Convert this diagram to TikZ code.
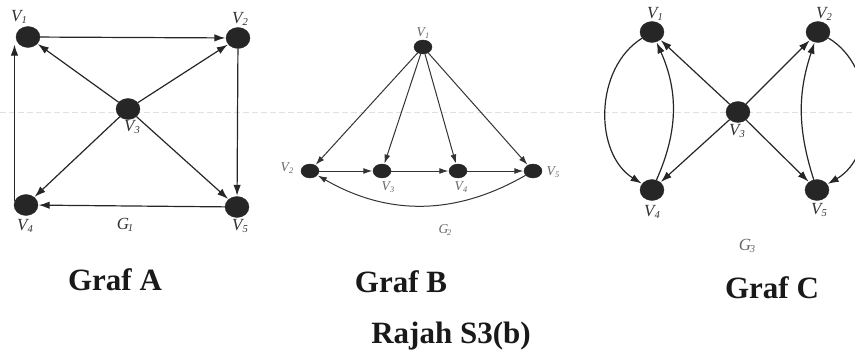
\documentclass[tikz,border=0pt]{standalone}
\usepackage{fontspec}
\setmainfont{Liberation Serif}
\usetikzlibrary{arrows.meta,shapes.geometric}
\newcommand{\vlab}[2]{\textit{#1}\kern-0.08em\raisebox{-0.3ex}{\scalebox{0.62}{\textit{#2}}}}
\tikzset{
  vbig/.style={shape=ellipse, fill=black!85, draw=black!85, minimum width=24pt, minimum height=21pt, inner sep=0pt},
  vsmall/.style={shape=ellipse, fill=black!85, draw=black!85, minimum width=18pt, minimum height=14pt, inner sep=0pt},
  arr/.style={-{Latex[length=11pt,width=7.5pt]}, line width=1.2pt, black!85, shorten >=0.5pt},
  arrs/.style={-{Latex[length=9pt,width=6pt]}, line width=1pt, black!80, shorten >=0.5pt},
  lab/.style={font=\fontsize{17}{17}\selectfont, text=black!80, inner sep=0pt},
  labs/.style={font=\fontsize{13.5}{13.5}\selectfont, text=black!60, inner sep=0pt},
  title/.style={font=\fontsize{31}{31}\selectfont\bfseries, text=black!90, inner sep=0pt, anchor=base}
}
\begin{document}
\begin{tikzpicture}[x=1pt,y=1pt]
\useasboundingbox (0,0) rectangle (855,-353);
% faint scan line
\draw[black!12, line width=0.8pt, dash pattern=on 6pt off 3pt] (0,-112) -- (855,-112);

% ---------- Graph A ----------
\node[vbig] (a1) at (28,-37) {};
\node[vbig] (a2) at (238,-38) {};
\node[vbig] (a3) at (128,-109) {};
\node[vbig] (a4) at (26,-205) {};
\node[vbig] (a5) at (237,-207) {};
\draw[arr] (a1) -- (a2);
\draw[arr] (a2) -- (a5);
\draw[arr] (a5) -- (a4);
\draw[arr] (a4.163) -- (a4.163 |- a1.218);
\draw[arr] (a3) -- (a1);
\draw[arr] (a3) -- (a2);
\draw[arr] (a3) -- (a4);
\draw[arr] (a3) -- (a5);
\node[lab] (la1) at (19,-17) {\vlab{V}{1}};
\node[lab] (la2) at (240,-19) {\vlab{V}{2}};
\node[lab] (la3) at (132,-127) {\vlab{V}{3}};
\node[lab] (la4) at (25,-226) {\vlab{V}{4}};
\node[lab] (la5) at (240,-226) {\vlab{V}{5}};
\node[lab] (ga) at (125,-225) {\vlab{G}{1}};

% ---------- Graph B ----------
\node[vsmall] (b1) at (423,-47) {};
\node[vsmall] (b2) at (310,-171) {};
\node[vsmall] (b3) at (382,-171) {};
\node[vsmall] (b4) at (458,-171) {};
\node[vsmall] (b5) at (533,-171) {};
\draw[arrs] (b1) -- (b2);
\draw[arrs] (b1) -- (b3);
\draw[arrs] (b1) -- (b4);
\draw[arrs] (b1) -- (b5);
\draw[arrs] (b2) -- (b3);
\draw[arrs] (b3) -- (b4);
\draw[arrs] (b4) -- (b5);
\draw[arrs] (b5) to[bend left=30] (b2);
\node[labs] (lb1) at (423,-33) {\vlab{V}{1}};
\node[labs] (lb2) at (287,-168) {\vlab{V}{2}};
\node[labs] (lb3) at (388,-187) {\vlab{V}{3}};
\node[labs] (lb4) at (461,-187) {\vlab{V}{4}};
\node[labs] (lb5) at (553,-172) {\vlab{V}{5}};
\node[labs] (gb) at (445,-230) {\vlab{G}{2}};

% ---------- Graph C ----------
\node[vbig] (c1) at (652,-32) {};
\node[vbig] (c2) at (818,-32) {};
\node[vbig] (c3) at (738,-112) {};
\node[vbig] (c4) at (652,-190) {};
\node[vbig] (c5) at (817,-190) {};
\draw[arr] (c3) -- (c1);
\draw[arr] (c3) -- (c2);
\draw[arr] (c3) -- (c4);
\draw[arr] (c3) -- (c5);
\draw[arr] (c1) to[bend right=58] (c4);
\draw[arr] (c4) to[bend right=24] (c1);
\draw[arr] (c2) to[bend left=60] (c5);
\draw[arr] (c5) to[bend left=18] (c2);
\node[lab] (lc1) at (655,-14) {\vlab{V}{1}};
\node[lab] (lc2) at (824,-14) {\vlab{V}{2}};
\node[lab] (lc3) at (737,-131) {\vlab{V}{3}};
\node[lab] (lc4) at (652,-212) {\vlab{V}{4}};
\node[lab] (lc5) at (819,-210) {\vlab{V}{5}};
\node[lab,text=black!60] (gc) at (747,-246) {\vlab{G}{3}};

% ---------- titles ----------
\node[title] (ta) at (115,-290) {Graf A};
\node[title] (tb) at (401,-292) {Graf B};
\node[title] (tc) at (772,-298) {Graf C};
\node[title] (tr) at (451,-343) {Rajah S3(b)};
\end{tikzpicture}
\end{document}
